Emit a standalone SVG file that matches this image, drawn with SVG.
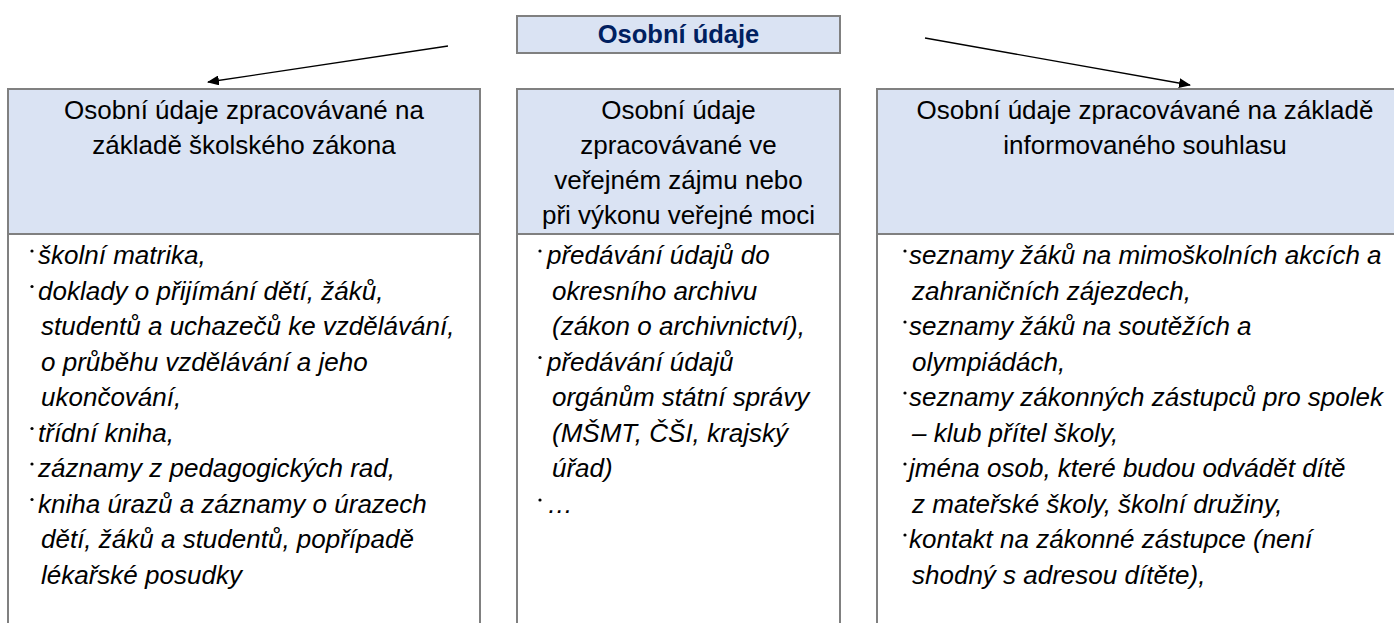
<svg xmlns="http://www.w3.org/2000/svg" width="1394" height="623" viewBox="0 0 1394 623">
<defs>
<style>
.hdr{fill:#dae3f3;stroke:#808080;stroke-width:2}
.body{fill:#ffffff;stroke:#808080;stroke-width:2}
.ht{font-family:"Liberation Sans",Arial,sans-serif;font-size:26px;fill:#000;text-anchor:middle}
.bt{font-family:"Liberation Sans",Arial,sans-serif;font-size:26px;font-style:italic;fill:#000}
.title{font-family:"Liberation Sans",Arial,sans-serif;font-size:25.5px;font-weight:bold;fill:#002060;text-anchor:middle}
.dot{fill:#000}
.conn{stroke:#000;stroke-width:1.3;fill:none}
</style>
<marker id="ah" viewBox="0 0 12 10" refX="11" refY="5" markerWidth="12" markerHeight="10" markerUnits="userSpaceOnUse" orient="auto">
<path d="M0,0 L12,5 L0,10 Z" fill="#000"/>
</marker>
</defs>
<rect width="1394" height="623" fill="#ffffff"/>

<g id="title">
<rect class="hdr" x="517" y="16" width="323" height="37"/>
<text class="title" x="678.5" y="43">Osobní údaje</text>
</g>

<g id="connectors">
<line class="conn" x1="448" y1="46" x2="208" y2="82" marker-end="url(#ah)"/>
<line class="conn" x1="925" y1="38" x2="1190" y2="85" marker-end="url(#ah)"/>
</g>

<g id="left">
<rect class="body" x="8" y="234" width="472" height="420"/>
<rect class="hdr" x="8" y="89" width="472" height="145"/>
<text class="ht" x="244" y="119">Osobní údaje zpracovávané na</text>
<text class="ht" x="244" y="154">základě školského zákona</text>
<circle class="dot" cx="32" cy="251" r="1.6"/>
<circle class="dot" cx="32" cy="286.5" r="1.6"/>
<circle class="dot" cx="32" cy="428.5" r="1.6"/>
<circle class="dot" cx="32" cy="464" r="1.6"/>
<circle class="dot" cx="32" cy="499.5" r="1.6"/>
<text class="bt" x="38" y="264">školní matrika,</text>
<text class="bt" x="38" y="299.5">doklady o přijímání dětí, žáků,</text>
<text class="bt" x="41" y="335">studentů a uchazečů ke vzdělávání,</text>
<text class="bt" x="41" y="370.5">o průběhu vzdělávání a jeho</text>
<text class="bt" x="41" y="406">ukončování,</text>
<text class="bt" x="38" y="441.5">třídní kniha,</text>
<text class="bt" x="38" y="477">záznamy z pedagogických rad,</text>
<text class="bt" x="38" y="512.5">kniha úrazů a záznamy o úrazech</text>
<text class="bt" x="41" y="548">dětí, žáků a studentů, popřípadě</text>
<text class="bt" x="41" y="583.5">lékařské posudky</text>
</g>

<g id="middle">
<rect class="body" x="517" y="234" width="323" height="420"/>
<rect class="hdr" x="517" y="89" width="323" height="145"/>
<text class="ht" x="678.5" y="119">Osobní údaje</text>
<text class="ht" x="678.5" y="154">zpracovávané ve</text>
<text class="ht" x="678.5" y="189">veřejném zájmu nebo</text>
<text class="ht" x="678.5" y="224">při výkonu veřejné moci</text>
<circle class="dot" cx="540" cy="251" r="1.6"/>
<circle class="dot" cx="540" cy="357.5" r="1.6"/>
<circle class="dot" cx="540" cy="500" r="1.6"/>
<text class="bt" x="547" y="264">předávání údajů do</text>
<text class="bt" x="552" y="299.5">okresního archivu</text>
<text class="bt" x="552" y="335">(zákon o archivnictví),</text>
<text class="bt" x="547" y="370.5">předávání údajů</text>
<text class="bt" x="552" y="406">orgánům státní správy</text>
<text class="bt" x="552" y="441.5">(MŠMT, ČŠI, krajský</text>
<text class="bt" x="552" y="477">úřad)</text>
<text class="bt" x="547" y="512.5">…</text>
</g>

<g id="right">
<rect class="body" x="877" y="234" width="536" height="420"/>
<rect class="hdr" x="877" y="89" width="536" height="145"/>
<text class="ht" x="1145" y="119">Osobní údaje zpracovávané na základě</text>
<text class="ht" x="1145" y="154">informovaného souhlasu</text>
<circle class="dot" cx="905" cy="251" r="1.6"/>
<circle class="dot" cx="905" cy="322" r="1.6"/>
<circle class="dot" cx="905" cy="393" r="1.6"/>
<circle class="dot" cx="905" cy="464" r="1.6"/>
<circle class="dot" cx="905" cy="535" r="1.6"/>
<text class="bt" x="909" y="264">seznamy žáků na mimoškolních akcích a</text>
<text class="bt" x="912" y="299.5">zahraničních zájezdech,</text>
<text class="bt" x="909" y="335">seznamy žáků na soutěžích a</text>
<text class="bt" x="912" y="370.5">olympiádách,</text>
<text class="bt" x="909" y="406">seznamy zákonných zástupců pro spolek</text>
<text class="bt" x="912" y="441.5">– klub přítel školy,</text>
<text class="bt" x="909" y="477">jména osob, které budou odvádět dítě</text>
<text class="bt" x="912" y="512.5">z mateřské školy, školní družiny,</text>
<text class="bt" x="909" y="548">kontakt na zákonné zástupce (není</text>
<text class="bt" x="912" y="583.5">shodný s adresou dítěte),</text>
</g>
</svg>
